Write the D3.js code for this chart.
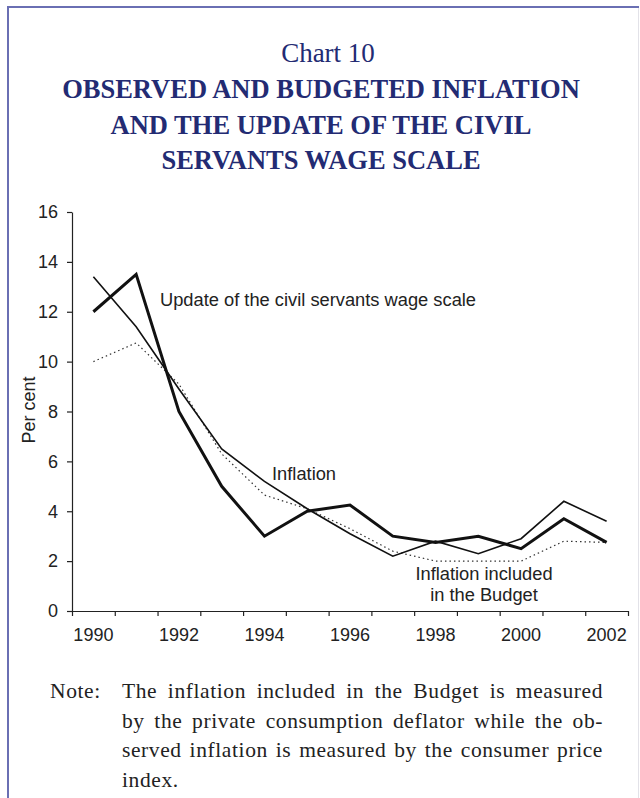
<!DOCTYPE html>
<html>
<head>
<meta charset="utf-8">
<script src="https://cdn.jsdelivr.net/npm/d3@7/dist/d3.min.js"></script>
<style>
  html, body { margin: 0; padding: 0; background: #fff; }
  svg { display: block; }
</style>
</head>
<body>
<svg id="chart" width="640" height="798"></svg>
<script>
// Years on the category axis
const years = [1990, 1991, 1992, 1993, 1994, 1995, 1996, 1997, 1998, 1999, 2000, 2001, 2002];
// Update of the civil servants wage scale (%)
const wageUpdate = [12.0, 13.5, 8.0, 5.0, 3.0, 4.0, 4.25, 3.0, 2.75, 3.0, 2.5, 3.7, 2.75];
// Observed inflation, CPI (%)
const inflation = [13.4, 11.4, 8.9, 6.5, 5.2, 4.1, 3.1, 2.2, 2.8, 2.3, 2.9, 4.4, 3.6];
// Inflation included in the Budget, private consumption deflator (%)
const budgetInflation = [10.0, 10.75, 9.1, 6.3, 4.65, 4.1, 3.3, 2.4, 2.0, 2.0, 2.0, 2.8, 2.75];
// Axis ticks
const yTicks = [0, 2, 4, 6, 8, 10, 12, 14, 16];
const xTickLabels = [1990, 1992, 1994, 1996, 1998, 2000, 2002];

const titleLines = [
  "OBSERVED AND BUDGETED INFLATION",
  "AND THE UPDATE OF THE CIVIL",
  "SERVANTS WAGE SCALE"
];
const noteLines = [
  "The inflation included in the Budget is measured",
  "by the private consumption deflator while the ob-",
  "served inflation is measured by the consumer price",
  "index."
];

const svg = d3.select("#chart");
const navy = "#232b73";
const sans = "'Liberation Sans', Arial, sans-serif";
const serif = "'Liberation Serif', 'Times New Roman', serif";

// Frame around the box
svg.append("line").attr("x1", 8).attr("x2", 8).attr("y1", 6).attr("y2", 798)
  .attr("stroke", "#6a6fb3").attr("stroke-width", 2);
svg.append("line").attr("x1", 7).attr("x2", 639).attr("y1", 7).attr("y2", 7)
  .attr("stroke", "#6a6fb3").attr("stroke-width", 2);
svg.append("line").attr("x1", 638.5).attr("x2", 638.5).attr("y1", 8).attr("y2", 798)
  .attr("stroke", "#e2e2e8").attr("stroke-width", 1);

// Titles
svg.append("text").attr("x", 328).attr("y", 62).attr("text-anchor", "middle")
  .attr("font-family", serif).attr("font-size", 27).attr("fill", navy)
  .text("Chart 10");
svg.append("g").selectAll("text").data(titleLines).join("text")
  .attr("x", 321).attr("y", (d, i) => 98 + i * 35.5)
  .attr("text-anchor", "middle")
  .attr("font-family", serif).attr("font-weight", "bold")
  .attr("font-size", 26.5).attr("fill", navy)
  .text(d => d);

// Plot scales
const x = d3.scaleBand().domain(years).range([72, 628]);
const xEdge = d3.scaleLinear().domain([0, years.length]).range([72, 628]);
const y = d3.scaleLinear().domain([0, 16]).range([611, 212]);
const cx = yr => x(yr) + x.bandwidth() / 2;

// Y axis
const yAxis = svg.append("g").attr("transform", "translate(72,0)")
  .call(d3.axisLeft(y).tickValues(yTicks).tickSize(5).tickPadding(9).tickSizeOuter(0));
// X axis: ticks on category boundaries, labels at category centres
const xAxis = svg.append("g").attr("transform", "translate(0,611)")
  .call(d3.axisBottom(xEdge).tickValues(d3.range(0, years.length + 1)).tickSize(5)
    .tickFormat("").tickSizeOuter(0));
const xLabels = svg.append("g").attr("transform", "translate(0,611)")
  .call(d3.axisBottom(x).tickValues(xTickLabels).tickSize(0).tickPadding(17));
xLabels.select(".domain").remove();

[yAxis, xAxis, xLabels].forEach(g => {
  g.selectAll(".domain").attr("stroke", "#222").attr("stroke-width", 1.2);
  g.selectAll(".tick line").attr("stroke", "#222").attr("stroke-width", 1.2);
  g.selectAll("text").attr("font-family", sans).attr("font-size", 18).attr("fill", "#222");
});

// Y axis title
svg.append("text")
  .attr("transform", "translate(35,410) rotate(-90)")
  .attr("text-anchor", "middle")
  .attr("font-family", sans).attr("font-size", 18).attr("fill", "#222")
  .text("Per cent");

// Series lines
const lineFor = vals => d3.line()
  .x((d, i) => cx(years[i]))
  .y(d => y(d))(vals);

svg.append("path").attr("d", lineFor(budgetInflation))
  .attr("fill", "none").attr("stroke", "#333").attr("stroke-width", 1.2)
  .attr("stroke-dasharray", "1.5,3");
svg.append("path").attr("d", lineFor(inflation))
  .attr("fill", "none").attr("stroke", "#111").attr("stroke-width", 1.6)
  .attr("stroke-linejoin", "miter");
svg.append("path").attr("d", lineFor(wageUpdate))
  .attr("fill", "none").attr("stroke", "#111").attr("stroke-width", 3)
  .attr("stroke-linejoin", "miter");

// Series labels
const lab = (tx, ty, t, anchor) => svg.append("text")
  .attr("x", tx).attr("y", ty).attr("text-anchor", anchor || "start")
  .attr("font-family", sans).attr("font-size", 18.3).attr("fill", "#222").text(t);
lab(160, 306, "Update of the civil servants wage scale");
lab(272, 480, "Inflation");
lab(484, 580, "Inflation included", "middle");
lab(484, 601, "in the Budget", "middle");

// Note, with a hanging indent and justified lines
const noteSize = 21.5, noteTrack = 0.6;
const noteText = sel => sel.attr("font-family", serif).attr("font-size", noteSize)
  .attr("letter-spacing", noteTrack).attr("fill", "#222");
svg.append("text").attr("x", 50).attr("y", 698).call(noteText).text("Note:");
const left = 122, right = 603;
const measure = svg.append("text").call(noteText);
noteLines.forEach((line, li) => {
  const words = line.split(" ");
  const widths = words.map(w => { measure.text(w); return measure.node().getComputedTextLength(); });
  const total = d3.sum(widths);
  const justify = li < noteLines.length - 1;
  const gap = justify && words.length > 1 ? (right - left - total) / (words.length - 1) : noteSize * 0.25;
  let px = left;
  words.forEach((w, wi) => {
    svg.append("text").attr("x", px).attr("y", 698 + li * 29.5).call(noteText).text(w);
    px += widths[wi] + gap;
  });
});
measure.remove();
</script>
</body>
</html>
